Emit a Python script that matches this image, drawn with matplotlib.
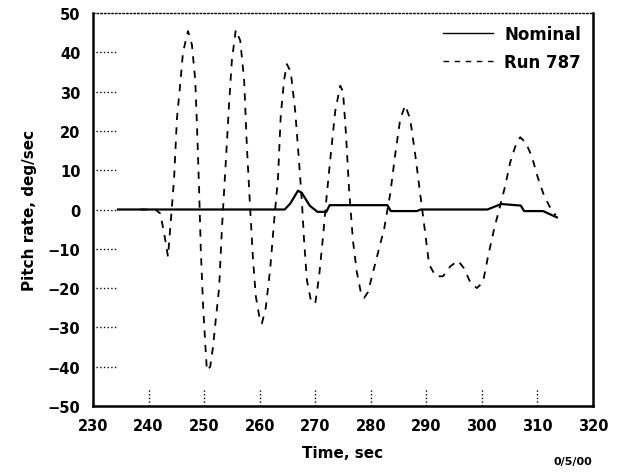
import matplotlib
matplotlib.use('Agg')
import matplotlib.pyplot as plt

# Nominal pitch rate trace
nominal_t = [234.5, 264.5, 265.5, 266.9, 267.6, 269.0, 270.4, 272.0, 272.6, 283.0,
             283.6, 288.3, 289.0, 301.0, 303.5, 307.0, 307.6, 311.0, 313.5]
nominal_q = [0.0, 0.0, 1.5, 4.8, 4.2, 1.0, -0.6, -0.6, 1.1, 1.1,
             -0.4, -0.4, 0.0, 0.0, 1.4, 1.0, -0.4, -0.4, -2.0]

# Run 787 pitch rate trace
run_t = [238.5, 241.2, 242.1, 242.8, 243.5, 244.0, 244.6, 245.1, 245.7, 246.2,
         247.1, 247.8, 248.4, 248.7, 249.1, 249.4, 249.8, 250.2, 250.5, 251.1,
         251.6, 252.1, 252.7, 253.2, 253.9, 254.5, 255.0, 255.7, 256.5, 257.2,
         257.7, 258.3, 258.8, 259.3, 259.9, 260.4, 261.1, 261.9, 262.6, 263.3,
         263.8, 264.4, 264.9, 265.6, 266.4, 267.1, 267.6, 268.0, 268.5, 269.2,
         270.0, 270.7, 271.4, 272.1, 272.8, 273.6, 274.5, 275.0, 275.5, 276.1,
         276.8, 277.5, 278.2, 278.8, 279.5, 280.4, 281.3, 282.4, 283.5, 284.4,
         285.3, 286.2, 287.1, 288.0, 288.9, 289.8, 290.5, 291.7, 293.0, 294.3,
         295.7, 296.8, 297.9, 299.1, 300.2, 301.1, 302.2, 303.3, 304.2, 305.1,
         306.0, 306.9, 307.9, 309.0, 310.1, 311.2, 312.3, 313.3]
run_q = [0.0, 0.0, -1.0, -6.0, -12.0, -3.0, 8.0, 23.0, 32.0, 40.0,
         45.4, 42.0, 33.0, 22.0, 5.0, -10.0, -24.0, -34.0, -41.0, -40.0,
         -35.0, -28.0, -20.0, -5.0, 12.0, 27.0, 38.0, 45.7, 43.0, 33.0,
         16.0, 0.0, -12.6, -22.0, -27.0, -29.0, -25.0, -15.0, -3.0, 8.0,
         24.0, 33.0, 37.0, 35.0, 25.0, 12.0, 2.0, -8.0, -18.0, -23.0,
         -24.0, -17.0, -7.0, 4.0, 14.0, 25.0, 31.5, 30.0, 20.0, 5.0,
         -8.0, -16.0, -21.0, -22.5, -21.0, -16.0, -11.0, -5.0, 4.0, 14.0,
         23.0, 26.5, 23.0, 14.0, 4.0, -6.0, -14.0, -17.0, -17.0, -14.5,
         -13.0, -15.0, -18.5, -20.0, -18.5, -12.0, -5.0, 1.0, 6.0, 12.0,
         16.0, 18.4, 17.0, 13.5, 8.0, 3.5, 0.5, -1.5]

x_ticks = [230, 240, 250, 260, 270, 280, 290, 300, 310, 320]
y_ticks = [50, 40, 30, 20, 10, 0, -10, -20, -30, -40, -50]

plt.rcParams['font.family'] = 'DejaVu Sans'
plt.rcParams['font.weight'] = 'bold'

fig = plt.figure(figsize=(6.18, 4.77), dpi=100)
ax = fig.add_axes([0.1505, 0.1468, 0.809, 0.8238])

ax.plot(nominal_t, nominal_q, color='black', lw=1.6, label='Nominal')
ax.plot(run_t, run_q, color='black', lw=1.3, linestyle=(0, (4, 4)), label='Run 787')

ax.set_xlim(230, 320)
ax.set_ylim(-50, 50)
ax.set_xticks(x_ticks)
ax.set_yticks(y_ticks)
ax.tick_params(axis='x', length=0, pad=9, labelsize=10.5)
ax.tick_params(axis='y', length=0, pad=9, labelsize=10.5)
for lbl in ax.get_xticklabels() + ax.get_yticklabels():
    lbl.set_fontweight('bold')

# dotted tick marks drawn inside the frame
ax.vlines(x_ticks[1:-1], 0, 0.045, transform=ax.get_xaxis_transform(),
          colors='black', lw=1.0, linestyles=':')
ax.hlines(y_ticks[1:-1], 0.006, 0.045, transform=ax.get_yaxis_transform(),
          colors='black', lw=1.0, linestyles=':')

for side in ['left', 'bottom', 'right']:
    ax.spines[side].set_linewidth(1.8)
ax.spines['top'].set_linewidth(1.0)
ax.spines['top'].set_linestyle(':')

ax.set_xlabel('Time, sec', fontsize=11, fontweight='bold', labelpad=8)
ax.set_ylabel('Pitch rate, deg/sec', fontsize=11, fontweight='bold', labelpad=8)

leg = ax.legend(loc='upper right', frameon=False, fontsize=12, handlelength=3.0,
                handletextpad=0.7, borderaxespad=0.3, labelspacing=0.6)
for t in leg.get_texts():
    t.set_fontweight('bold')
for h in leg.get_lines():
    h.set_linewidth(1.0)

fig.text(0.958, 0.022, '0/5/00', ha='right', va='bottom', fontsize=8, fontweight='bold')

fig.savefig('out.png', dpi=100, facecolor='white')
